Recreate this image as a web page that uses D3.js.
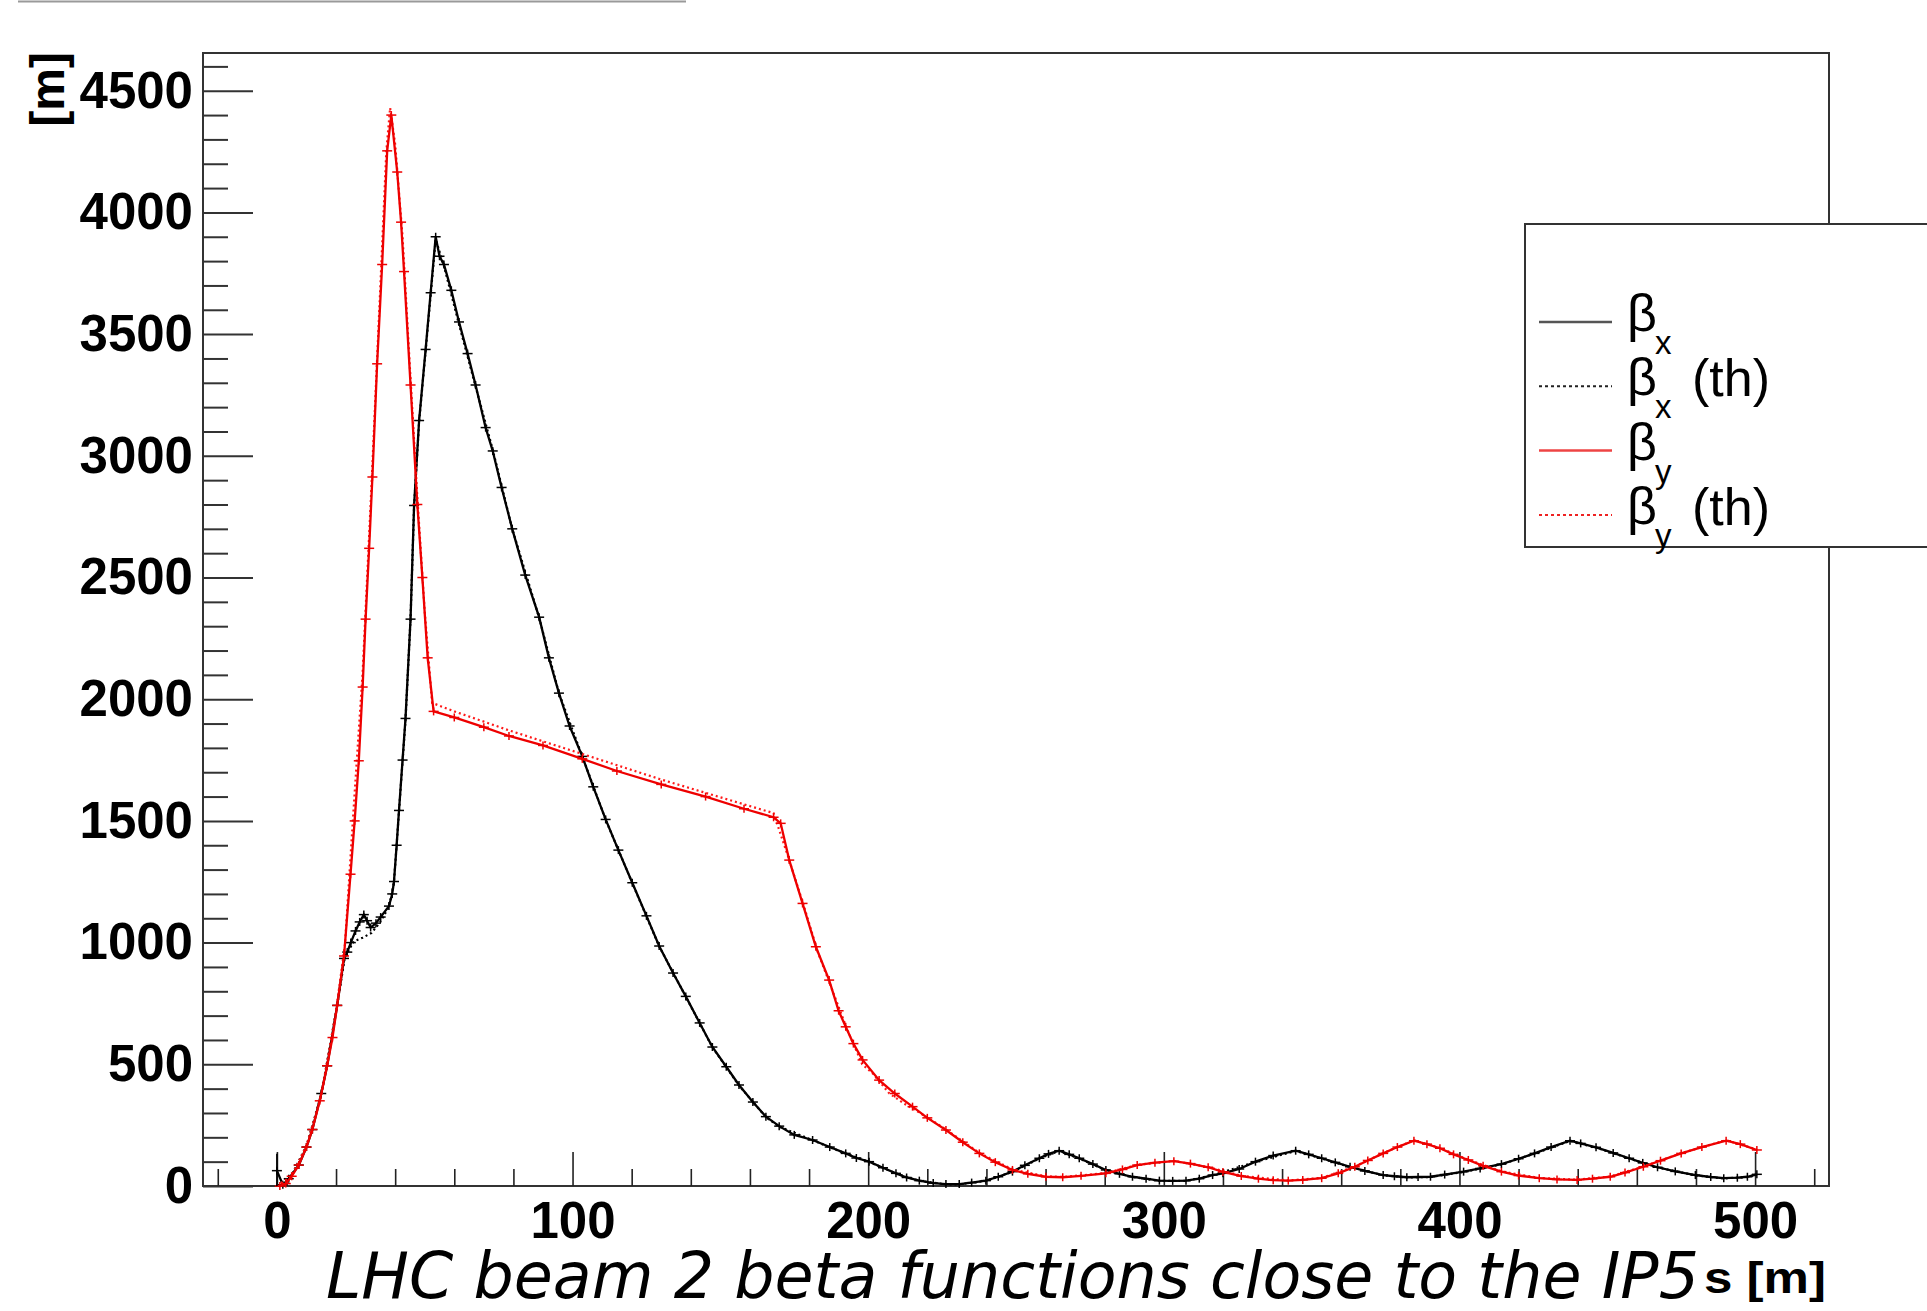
<!DOCTYPE html>
<html>
<head>
<meta charset="utf-8">
<script src="https://cdn.jsdelivr.net/npm/d3@7"></script>
<style>
  body { margin: 0; background: #fff; }
  svg { display: block; }
  .tick text { font-family: "Liberation Sans", Arial, sans-serif; font-weight: bold; fill: #000; }
</style>
</head>
<body>
<svg id="chart" width="1927" height="1311"></svg>
<script>
// Chart data: [s (m), beta (m)]
var betaX = [
  [0, 63], [2, 5], [4, 30], [7.4, 86], [10, 160], [12, 232], [15, 380], [17, 494], [20.4, 742],
  [22.7, 935], [23.8, 961], [25, 1000], [26.6, 1048], [28, 1085], [29.4, 1115], [30.5, 1090],
  [31.7, 1062], [33.5, 1080], [35.1, 1105], [37.9, 1150], [39, 1200], [39.6, 1251], [40.5, 1400],
  [41.3, 1543], [42.5, 1750], [43.5, 1921], [45.2, 2329], [46.4, 2796], [48.1, 3145], [50.3, 3437],
  [52, 3670], [53.7, 3900], [55, 3820], [56.5, 3786], [59, 3680], [61.6, 3550], [64.5, 3420],
  [67.2, 3291], [70.6, 3116], [73, 3020], [76, 2870], [79.6, 2700], [84, 2510], [88.7, 2337],
  [92, 2170], [95.4, 2025], [99, 1890], [103.3, 1765], [107, 1640], [111.2, 1506], [115.5, 1380],
  [120.2, 1246], [125, 1110], [129.3, 986], [134, 875], [138.3, 779], [143, 670], [147.3, 571],
  [152, 490], [156.3, 415], [161, 345], [165.4, 285], [169.9, 246], [175, 210], [181.2, 189],
  [187, 160], [192.4, 134], [196, 115], [200.3, 100], [205, 75], [209.4, 52], [213, 35],
  [217.3, 22], [222, 12], [226.3, 8], [230.8, 8], [235, 14], [239.8, 22], [244, 38], [248.8, 59],
  [253, 85], [257.9, 114], [261, 132], [264.6, 145], [268, 130], [271.4, 114], [276, 90],
  [280.4, 66], [285, 50], [289.4, 38], [294, 30], [298.5, 22], [303, 21], [307.5, 22], [312, 30],
  [316.5, 45], [320, 52], [325.5, 70], [331, 100], [337, 125], [344.6, 145], [349, 130],
  [353.4, 114], [358, 97], [363, 79], [368, 62], [374.2, 45], [378, 40], [382.2, 36], [386, 37],
  [390.2, 38], [395, 47], [401.4, 59], [407, 72], [414.2, 90], [420, 112], [425.4, 134], [431, 160],
  [437.4, 186], [441, 175], [446.2, 159], [452, 136], [457.4, 114], [462, 95], [467, 77], [473, 60],
  [479.8, 45], [485, 37], [489.4, 32], [494, 34], [497.4, 38], [500.6, 48]
];

var betaXTh = [
  [0, 0], [5, 45], [10, 165], [15, 375], [20, 715], [23, 940], [26, 1005], [29, 1020], [32, 1040],
  [35, 1085], [38, 1150], [39.6, 1250], [41.3, 1540], [43.5, 1915], [45.2, 2330], [46.4, 2790],
  [48.1, 3140], [50.3, 3430], [52, 3660], [53.7, 3890], [56.5, 3780], [61.6, 3540], [67.2, 3285],
  [72.9, 3030], [79.6, 2700], [88.7, 2335], [95.4, 2025], [103.3, 1765], [111.2, 1505],
  [120.2, 1245], [129.3, 985], [138.3, 778], [147.3, 570], [156.3, 413], [165.4, 283], [169.9, 244],
  [181.2, 188], [192.4, 133], [200.3, 99], [209.4, 51], [217.3, 21], [226.3, 7], [230.8, 7],
  [239.8, 21], [248.8, 58], [257.9, 113], [264.6, 144], [271.4, 113], [280.4, 65], [289.4, 37],
  [298.5, 21], [307.5, 21], [316.5, 44], [331, 99], [344.6, 144], [353.4, 113], [363, 78],
  [374.2, 44], [382.2, 35], [390.2, 37], [401.4, 58], [414.2, 89], [425.4, 133], [437.4, 185],
  [446.2, 158], [457.4, 113], [467, 76], [479.8, 44], [489.4, 31], [497.4, 37], [500.6, 47]
];

var betaY = [
  [1, 0], [3, 10], [5, 40], [7.4, 86], [10, 160], [12, 232], [14.5, 350], [17, 494], [18.8, 610],
  [20.4, 742], [22.7, 945], [24.9, 1281], [26.3, 1500], [27.7, 1747], [29, 2050], [30, 2329],
  [31.2, 2620], [32.3, 2913], [33.9, 3378], [35.6, 3786], [37.3, 4253], [38.7, 4400], [40.7, 4166],
  [42, 3960], [43, 3757], [45.2, 3291], [47.5, 2800], [49.2, 2500], [51, 2170], [53, 1950],
  [60, 1925], [70, 1885], [78.5, 1849], [90, 1810], [103.3, 1755], [115, 1705], [130, 1650],
  [145, 1600], [158, 1550], [168, 1515], [170.4, 1490], [173.3, 1339], [177.8, 1161], [182.3, 983],
  [186.8, 846], [190, 720], [192.4, 654], [195, 585], [198.1, 518], [203.7, 435], [209, 380],
  [215, 326], [220, 280], [226.3, 230], [232, 180], [237.6, 134], [243, 98], [248.8, 66],
  [254, 50], [260.1, 38], [265.8, 36], [272, 42], [280.4, 52], [286, 68], [291, 86], [297, 96],
  [303.4, 102], [309, 92], [315, 77], [320, 58], [326.2, 41], [332, 30], [337, 24], [342.1, 22],
  [347, 25], [353.4, 32], [359, 52], [364.6, 79], [369, 105], [374.2, 134], [379, 160],
  [384.6, 186], [389, 172], [393.4, 155], [398, 130], [403, 107], [408, 83], [414.2, 59],
  [420, 43], [427, 32], [433, 27], [439.8, 25], [445, 30], [451, 38], [456, 55], [462.2, 79],
  [468, 104], [475, 134], [482, 160], [490.2, 186], [495, 172], [500.6, 148]
];

var betaYTh = [
  [0, 0], [5, 42], [10, 165], [15, 370], [20, 720], [23, 990], [26, 1560], [29, 2110], [32, 2880],
  [35, 3700], [37, 4250], [38.3, 4430], [40, 4280], [42.5, 3900], [45, 3360], [47.5, 2830],
  [50, 2360], [52.5, 1985], [60, 1950], [78.5, 1872], [103.3, 1775], [130, 1670], [158, 1568],
  [168, 1532], [173, 1350], [178, 1160], [183, 960], [188, 800], [193, 640], [198, 500],
  [201.5, 463], [207.1, 381], [212, 340], [220, 282], [226.3, 232], [237.6, 136], [248.8, 68],
  [260.1, 40], [265.8, 37], [280.4, 53], [291, 87], [303.4, 103], [315, 78], [326.2, 42],
  [342.1, 23], [353.4, 33], [364.6, 80], [374.2, 135], [384.6, 188], [393.4, 156], [403, 108],
  [414.2, 60], [427, 33], [439.8, 26], [451, 39], [462.2, 80], [475, 135], [490.2, 188],
  [500.6, 150]
];

// [s, beta, error] for the one visibly large error bar
var betaXErr = [[0, 63, 70]];

var yMajor = d3.range(0, 4501, 500);
var yMinor = d3.range(0, 4601, 100).filter(function(v) { return v % 500 !== 0; });
var xMajor = d3.range(0, 501, 100);
var xMinor = d3.range(-20, 521, 20).filter(function(v) { return v % 100 !== 0; });

var legendItems = [
  { sub: 'x', th: false, color: '#555', dash: null },
  { sub: 'x', th: true, color: '#222', dash: '3,3' },
  { sub: 'y', th: false, color: '#ee4444', dash: null },
  { sub: 'y', th: true, color: '#ee2222', dash: '3,3' }
];

/*
 * SCALES + FRAME
 * =============================== */

var svg = d3.select('#chart');
var padL = 203, padR = 1829, padT = 53, padB = 1186;

var x = d3.scaleLinear().domain([-25, 525]).range([padL, padR]);
var y = d3.scaleLinear().domain([0, 4655]).range([padB, padT]);

// thin grey rule at the very top of the picture
svg.append('line')
  .attr('x1', 18).attr('x2', 686).attr('y1', 1.5).attr('y2', 1.5)
  .attr('stroke', '#9a9a9a').attr('stroke-width', 2);

svg.append('rect')
  .attr('x', padL).attr('y', padT)
  .attr('width', padR - padL).attr('height', padB - padT)
  .attr('fill', 'none').attr('stroke', '#333').attr('stroke-width', 2);

// y axis: long ticks pointing into the frame
var yAxis = svg.append('g')
  .attr('transform', 'translate(' + padL + ',0)')
  .call(d3.axisLeft(y).tickValues(yMajor).tickSize(-50).tickPadding(10).tickFormat(d3.format('d')));
yAxis.selectAll('text').style('font-size', '51px');
yAxis.append('g').call(d3.axisLeft(y).tickValues(yMinor).tickSize(-25).tickFormat(''));
yAxis.selectAll('.domain').remove();
yAxis.selectAll('line').attr('stroke', '#333').attr('stroke-width', 2);

var xAxis = svg.append('g')
  .attr('transform', 'translate(0,' + padB + ')')
  .call(d3.axisBottom(x).tickValues(xMajor).tickSize(-34).tickPadding(16).tickFormat(d3.format('d')));
xAxis.selectAll('text').style('font-size', '51px');
xAxis.append('g').call(d3.axisBottom(x).tickValues(xMinor).tickSize(-17).tickFormat(''));
xAxis.selectAll('.domain').remove();
xAxis.selectAll('line').attr('stroke', '#222').attr('stroke-width', 1.6);

/*
 * CURVES
 * =============================== */

var line = d3.line()
  .x(function(d) { return x(d[0]); })
  .y(function(d) { return y(d[1]); });

var drawTh = function(data, color) {
  svg.append('path').datum(data)
    .attr('d', line)
    .attr('fill', 'none').attr('stroke', color)
    .attr('stroke-width', 2.2).attr('stroke-dasharray', '2,3');
};

var drawMeas = function(data, color) {
  svg.append('path').datum(data)
    .attr('d', line)
    .attr('fill', 'none').attr('stroke', color).attr('stroke-width', 2.3);
  var g = svg.append('g').attr('stroke', color).attr('stroke-width', 1.5);
  g.selectAll('line.h').data(data).enter().append('line')
    .attr('x1', function(d) { return x(d[0]) - 5; })
    .attr('x2', function(d) { return x(d[0]) + 5; })
    .attr('y1', function(d) { return y(d[1]); })
    .attr('y2', function(d) { return y(d[1]); });
  g.selectAll('line.v').data(data).enter().append('line')
    .attr('x1', function(d) { return x(d[0]); })
    .attr('x2', function(d) { return x(d[0]); })
    .attr('y1', function(d) { return y(d[1]) - 4; })
    .attr('y2', function(d) { return y(d[1]) + 4; });
};

drawTh(betaXTh, '#000');
drawMeas(betaX, '#000');
drawTh(betaYTh, '#ff1a1a');
drawMeas(betaY, '#ee0000');

svg.selectAll('line.err').data(betaXErr).enter().append('line')
  .attr('x1', function(d) { return x(d[0]); })
  .attr('x2', function(d) { return x(d[0]); })
  .attr('y1', function(d) { return y(d[1] + d[2]); })
  .attr('y2', function(d) { return y(Math.max(0, d[1] - d[2])); })
  .attr('stroke', '#000').attr('stroke-width', 1.6);

/*
 * LEGEND + TITLES
 * =============================== */

var lg = svg.append('g');
lg.append('rect')
  .attr('x', 1525).attr('y', 224).attr('width', 440).attr('height', 323)
  .attr('fill', '#fff').attr('stroke', '#333').attr('stroke-width', 2);

var font = '"Liberation Sans", Arial, sans-serif';
legendItems.forEach(function(item, i) {
  var ly = 322 + i * 64.3;
  lg.append('line')
    .attr('x1', 1539).attr('x2', 1612).attr('y1', ly).attr('y2', ly)
    .attr('stroke', item.color)
    .attr('stroke-width', item.dash ? 2 : 2.5)
    .attr('stroke-dasharray', item.dash);
  lg.append('text').attr('x', 1627).attr('y', ly + 9)
    .style('font-family', font).style('font-size', '52px').text('β');
  lg.append('text').attr('x', 1655).attr('y', ly + 32)
    .style('font-family', font).style('font-size', '33px').text(item.sub);
  if (item.th) {
    lg.append('text').attr('x', 1692).attr('y', ly + 10)
      .style('font-family', font).style('font-size', '52px').text('(th)');
  }
});

svg.append('text')
  .attr('transform', 'translate(64,52) rotate(-90)')
  .attr('text-anchor', 'end')
  .style('font-family', font).style('font-weight', 'bold').style('font-size', '48px')
  .text('[m]');

svg.append('text')
  .attr('x', 1704).attr('y', 1293)
  .attr('textLength', 122).attr('lengthAdjust', 'spacingAndGlyphs')
  .style('font-family', font).style('font-weight', 'bold').style('font-size', '44px')
  .text('s [m]');

svg.append('text')
  .attr('x', 326).attr('y', 1298)
  .attr('textLength', 1373).attr('lengthAdjust', 'spacingAndGlyphs')
  .style('font-family', '"DejaVu Sans", sans-serif').style('font-style', 'italic')
  .style('font-size', '64px')
  .text('LHC beam 2 beta functions close to the IP5');
</script>
</body>
</html>
